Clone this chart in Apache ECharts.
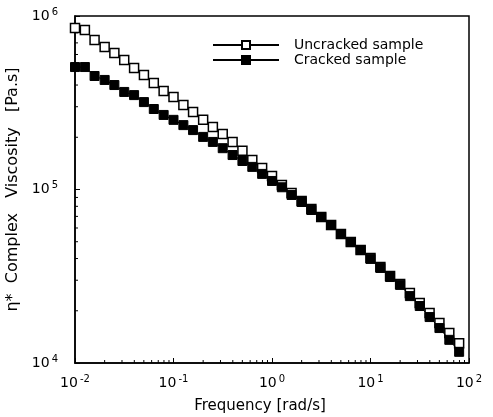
<!DOCTYPE html>
<html>
<head>
<meta charset="utf-8">
<script src="https://cdn.jsdelivr.net/npm/echarts@6/dist/echarts.min.js"></script>
<style>html,body{margin:0;padding:0;background:#fff}#c{width:493px;height:417px}</style>
</head>
<body>
<div id="c"></div>
<script>
var frequency = [0.01,0.0126,0.0158,0.02,0.0251,0.0316,0.0398,0.0501,0.0631,0.0794,
  0.1,0.126,0.158,0.2,0.251,0.316,0.398,0.501,0.631,0.794,
  1,1.26,1.58,2,2.51,3.16,3.98,5.01,6.31,7.94,
  10,12.6,15.8,20,25.1,31.6,39.8,50.1,63.1,79.4];
var uncracked = [853000,831000,727000,663000,612000,558000,502000,457000,411000,370000,
  341000,307000,280000,252000,229000,209000,188000,167000,148000,133000,
  119600,106000,95400,85800,77200,69400,62400,55400,49800,44800,
  40300,35800,31700,28500,25300,22200,19400,17000,14900,13000];
var cracked = [508000,508000,451000,428000,400000,365000,350000,319000,291000,269000,
  252000,235000,220000,201000,188000,173000,158000,146000,135000,123000,
  112000,103000,93000,84700,76200,69400,62400,55400,49800,44800,
  39800,35300,31300,28200,24300,21300,18400,15900,13600,11600];
var xMinorTicks = [0.02,0.03,0.04,0.05,0.06,0.07,0.08,0.09,0.2,0.3,0.4,0.5,0.6,0.7,0.8,0.9,
  2,3,4,5,6,7,8,9,20,30,40,50,60,70,80,90];
var yMinorTicks = [20000,30000,40000,50000,60000,70000,80000,90000,
  200000,300000,400000,500000,600000,700000,800000,900000];
var seriesNames = ['Uncracked sample','Cracked sample'];
var xLabelExp = {'0.01':'-2','0.1':'-1','1':'0','10':'1','100':'2'};
var yLabelExp = {'10000':'4','100000':'5','1000000':'6'};

function pairs(xs, ys){ return xs.map(function(x,i){return [x, ys[i]];}); }

var FONT = 'DejaVu Sans';
var rich = {
  b:{fontSize:14,fontFamily:FONT,color:'#000'},
  s:{fontSize:10,fontFamily:FONT,color:'#000',verticalAlign:'top',padding:[0,0,8,2]}
};

var chart = echarts.init(document.getElementById('c'));
chart.setOption({
  animation:false,
  backgroundColor:'#fff',
  grid:{left:75,right:24,top:16,bottom:54,outerBoundsMode:'none',containLabel:false,
    show:true,borderColor:'#000',borderWidth:1.5,backgroundColor:'transparent'},
  legend:{
    data:seriesNames,
    orient:'vertical',
    left:207,top:33,
    itemWidth:66,itemHeight:10,itemGap:1,
    textStyle:{fontFamily:FONT,fontSize:14,color:'#000',padding:[0,0,0,10]}
  },
  xAxis:{
    type:'log',logBase:10,min:0.01,max:100,
    name:'Frequency [rad/s]',nameLocation:'middle',nameGap:36,
    nameTextStyle:{fontFamily:FONT,fontSize:15,color:'#000',padding:[0,24,0,0]},
    axisLine:{lineStyle:{color:'#000',width:1.5}},
    axisTick:{inside:true,length:5,lineStyle:{color:'#000'}},
    splitLine:{show:false},
    axisLabel:{margin:11,formatter:function(v){
      var k = String(+v.toPrecision(3)); var e = xLabelExp[k];
      return '{b|10}{s|' + (e!==undefined?e:'') + '}';
    },rich:rich}
  },
  yAxis:{
    type:'log',logBase:10,min:10000,max:1000000,
    name:'\u03b7*  Complex   Viscosity   [Pa.s]',nameLocation:'middle',nameGap:50,
    nameTextStyle:{fontFamily:FONT,fontSize:16,color:'#000'},
    axisLine:{lineStyle:{color:'#000',width:1.5}},
    axisTick:{inside:true,length:5,lineStyle:{color:'#000'}},
    splitLine:{show:false},
    axisLabel:{margin:17,formatter:function(v){
      var k = String(Math.round(v)); var e = yLabelExp[k];
      return '{b|10}{s|' + (e!==undefined?e:'') + '}';
    },rich:rich}
  },
  series:[
    {
      name:seriesNames[0],type:'line',data:pairs(frequency,uncracked),
      symbol:'rect',symbolSize:9,showAllSymbol:true,
      lineStyle:{color:'#000',width:1},
      itemStyle:{color:'#fff',borderColor:'#000',borderWidth:1.5},
      z:3
    },
    {
      name:seriesNames[1],type:'line',data:pairs(frequency,cracked),
      symbol:'rect',symbolSize:9,showAllSymbol:true,
      lineStyle:{color:'#000',width:1},
      itemStyle:{color:'#000',borderColor:'#000',borderWidth:1},
      z:4
    },
    {
      type:'custom',silent:true,
      data:xMinorTicks.map(function(v){return [v,10000];}),
      renderItem:function(params,api){
        var p = api.coord([api.value(0),api.value(1)]);
        return {type:'line',shape:{x1:p[0],y1:p[1],x2:p[0],y2:p[1]-3},style:{stroke:'#000',lineWidth:1}};
      }
    },
    {
      type:'custom',silent:true,
      data:yMinorTicks.map(function(v){return [0.01,v];}),
      renderItem:function(params,api){
        var p = api.coord([api.value(0),api.value(1)]);
        return {type:'line',shape:{x1:p[0],y1:p[1],x2:p[0]+3,y2:p[1]},style:{stroke:'#000',lineWidth:1}};
      }
    }
  ]
});
</script>
</body>
</html>
